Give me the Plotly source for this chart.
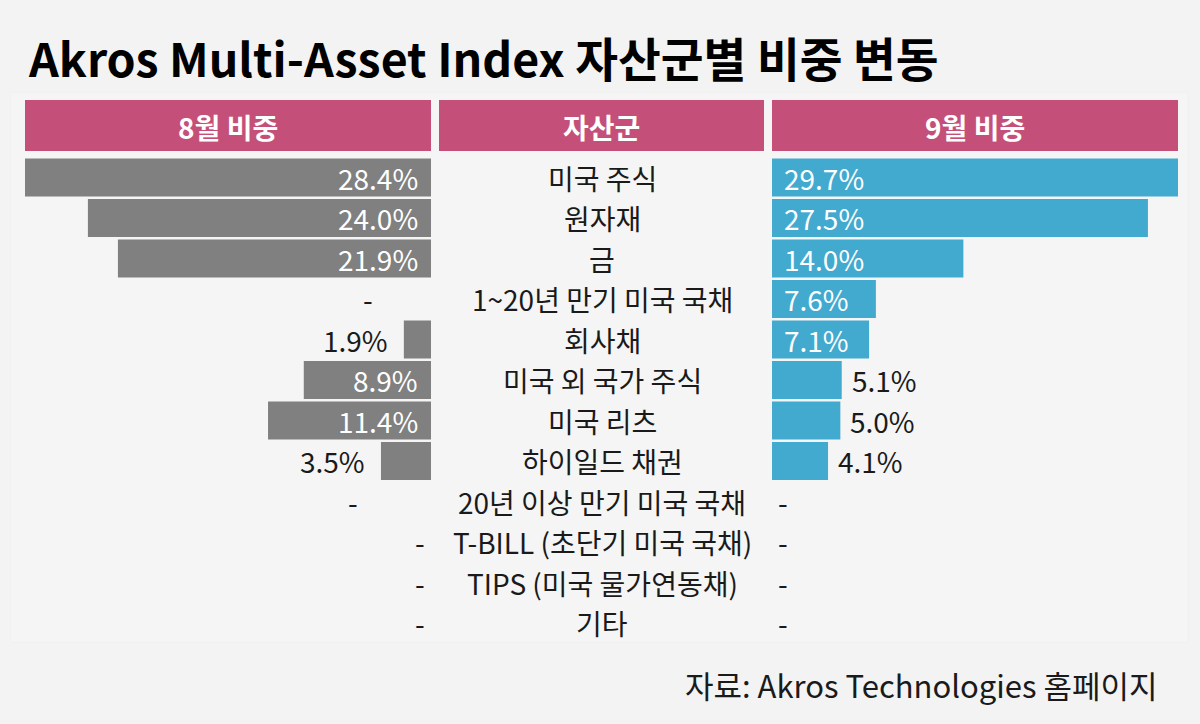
import plotly.graph_objects as go

# ---- data ----
categories = ["미국 주식", "원자재", "금", "1~20년 만기 미국 국채", "회사채", "미국 외 국가 주식",
              "미국 리츠", "하이일드 채권", "20년 이상 만기 미국 국채", "T-BILL (초단기 미국 국채)",
              "TIPS (미국 물가연동채)", "기타"]
aug_weights = [28.4, 24.0, 21.9, None, 1.9, 8.9, 11.4, 3.5, None, None, None, None]
sep_weights = [29.7, 27.5, 14.0, 7.6, 7.1, 5.1, 5.0, 4.1, None, None, None, None]
header_labels = ["8월 비중", "자산군", "9월 비중"]
title_text = "Akros Multi-Asset Index 자산군별 비중 변동"
source_text = "자료: Akros Technologies 홈페이지"

# ---- style ----
W, H = 1200, 724
BG = "#f3f3f3"
PINK = "#c45079"
GRAY = "#808080"
BLUE = "#42a9cf"
FONT = "Noto Sans CJK KR"
TXT = "#1a1a1a"
LBL = 28
ROW0, PITCH = 177.5, 40.5
left_dom = (25, 431)
right_dom = (772, 1178)
inside_threshold_left = 5
inside_threshold_right = 6

n = len(categories)
ypos = list(range(n))
y_top = -ROW0 / PITCH
y_bot = y_top + H / PITCH

fig = go.Figure()
fig.add_trace(go.Bar(y=ypos, x=[v if v is not None else 0 for v in aug_weights], orientation="h",
                     marker=dict(color=GRAY, line=dict(width=0)), width=0.94,
                     xaxis="x", yaxis="y", hoverinfo="skip"))
fig.add_trace(go.Bar(y=ypos, x=[v if v is not None else 0 for v in sep_weights], orientation="h",
                     marker=dict(color=BLUE, line=dict(width=0)), width=0.94,
                     xaxis="x2", yaxis="y", hoverinfo="skip"))

ann = []
left_dash_px = {3: 368, 8: 353}
for i, v in enumerate(aug_weights):
    if v is None:
        px = left_dash_px.get(i, 420)
        ann.append(dict(x=px / W, xref="paper", y=i, yref="y", text="-", showarrow=False,
                        xanchor="center", font=dict(size=LBL, color=TXT, family=FONT)))
    elif v >= inside_threshold_left:
        ann.append(dict(x=0, xref="x", y=i, yref="y", text=f"{v:.1f}%", showarrow=False,
                        xanchor="right", xshift=-11, font=dict(size=LBL, color="white", family=FONT)))
    else:
        ann.append(dict(x=v, xref="x", y=i, yref="y", text=f"{v:.1f}%", showarrow=False,
                        xanchor="right", xshift=-14, font=dict(size=LBL, color=TXT, family=FONT)))
for i, v in enumerate(sep_weights):
    if v is None:
        ann.append(dict(x=783 / W, xref="paper", y=i, yref="y", text="-", showarrow=False,
                        xanchor="center", font=dict(size=LBL, color=TXT, family=FONT)))
    elif v >= inside_threshold_right:
        ann.append(dict(x=0, xref="x2", y=i, yref="y", text=f"{v:.1f}%", showarrow=False,
                        xanchor="left", xshift=10, font=dict(size=LBL, color="white", family=FONT)))
    else:
        ann.append(dict(x=v, xref="x2", y=i, yref="y", text=f"{v:.1f}%", showarrow=False,
                        xanchor="left", xshift=8, font=dict(size=LBL, color=TXT, family=FONT)))
for i, c in enumerate(categories):
    ann.append(dict(x=602 / W, xref="paper", y=i, yref="y", text=c, showarrow=False,
                    xanchor="center", font=dict(size=LBL, color=TXT, family=FONT)))

shapes = [dict(type="rect", xref="paper", yref="paper", x0=10 / W, x1=1188 / W,
               y0=1 - 642 / H, y1=1 - 92 / H, fillcolor="#f5f5f5",
               line=dict(width=1, color="#f0f0f0"), layer="below")]
hdr_boxes = [(25, 431), (439, 764), (772, 1178)]
for (x0, x1), lab in zip(hdr_boxes, header_labels):
    shapes.append(dict(type="rect", xref="paper", yref="paper", x0=x0 / W, x1=x1 / W,
                       y0=1 - 151 / H, y1=1 - 100 / H, fillcolor=PINK, line=dict(width=0), layer="below"))
    ann.append(dict(x=(x0 + x1) / 2 / W, xref="paper", y=1 - 127 / H, yref="paper", text=f"<b>{lab}</b>",
                    showarrow=False, xanchor="center", yanchor="middle",
                    font=dict(size=28, color="white", family=FONT)))

ann.append(dict(x=26 / W, xref="paper", y=1 - 56 / H, yref="paper", text=f"<b>{title_text}</b>",
                showarrow=False, xanchor="left", yanchor="middle",
                font=dict(size=46.5, color="#000000", family=FONT)))
ann.append(dict(x=1160 / W, xref="paper", y=1 - 684 / H, yref="paper", text=source_text,
                showarrow=False, xanchor="right", yanchor="middle",
                font=dict(size=31, color=TXT, family=FONT)))

fig.update_layout(
    width=W, height=H, margin=dict(l=0, r=0, t=0, b=0),
    paper_bgcolor=BG, plot_bgcolor="rgba(0,0,0,0)",
    showlegend=False, barmode="overlay",
    xaxis=dict(domain=[left_dom[0] / W, left_dom[1] / W], range=[max(v for v in aug_weights if v), 0],
               visible=False, fixedrange=True),
    xaxis2=dict(domain=[right_dom[0] / W, right_dom[1] / W], range=[0, max(v for v in sep_weights if v)],
                visible=False, fixedrange=True),
    yaxis=dict(domain=[0, 1], range=[y_bot, y_top], visible=False, fixedrange=True),
    annotations=ann, shapes=shapes,
    font=dict(family=FONT),
)

fig.write_html("out.html", config={"displayModeBar": False},
               post_script="document.body.style.margin='0';document.body.style.overflow='hidden';")
